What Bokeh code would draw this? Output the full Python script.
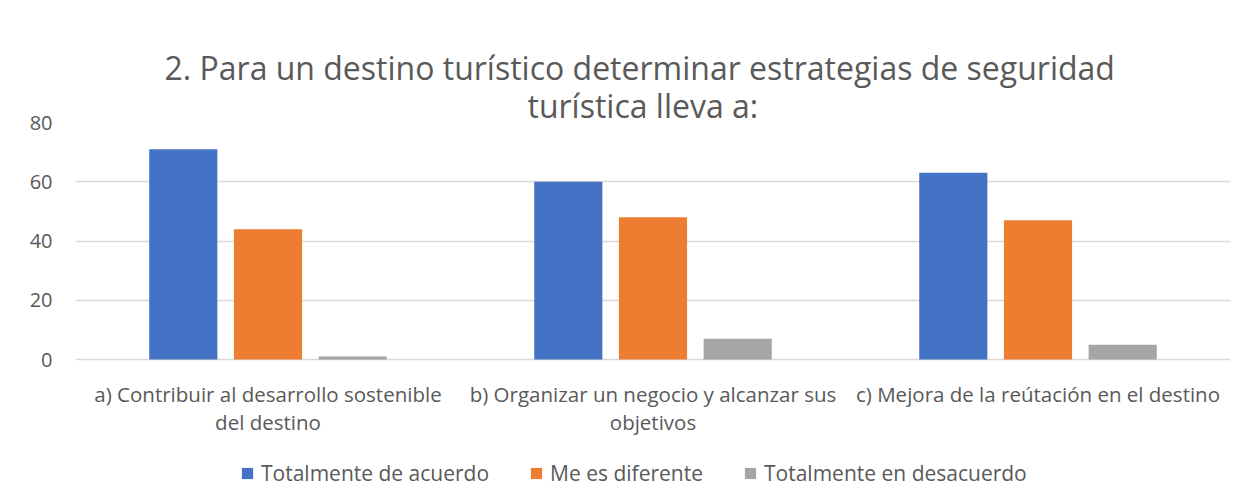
from bokeh.plotting import figure
from bokeh.models import (ColumnDataSource, FactorRange, Legend, LegendItem, Title,
                          FixedTicker, Range1d)
from bokeh.core.properties import value
from bokeh.transform import dodge
from bokeh.embed import file_html
from bokeh.resources import INLINE

categories = [
    "a) Contribuir al desarrollo sostenible del destino",
    "b) Organizar un negocio y alcanzar sus objetivos",
    "c) Mejora de la reútación en el destino",
]
label_line1 = [
    "a) Contribuir al desarrollo sostenible",
    "b) Organizar un negocio y alcanzar sus",
    "c) Mejora de la reútación en el destino",
]
label_line2 = ["del destino", "objetivos", ""]
series_names = ["Totalmente de acuerdo", "Me es diferente", "Totalmente en desacuerdo"]
totalmente_de_acuerdo = [71, 60, 63]
me_es_diferente = [44, 48, 47]
totalmente_en_desacuerdo = [1, 7, 5]
y_ticks = [0, 20, 40, 60, 80]
colors = ["#4472C4", "#ED7D31", "#A5A5A5"]

FONT = "Open Sans"
TXT = "#595959"

# layout (pixels)
FRAME_TOP = 122
PLOT_H = 237            # height of the 0..80 value area
BOTTOM_SPACE = 140      # room below the value area for category labels + legend
Y_MAX = y_ticks[-1]
y_min = -BOTTOM_SPACE * Y_MAX / PLOT_H

source = ColumnDataSource(data=dict(
    cat=categories,
    line1=label_line1,
    line2=label_line2,
    zero=[0] * len(categories),
    s0=totalmente_de_acuerdo,
    s1=me_es_diferente,
    s2=totalmente_en_desacuerdo,
))

p = figure(
    x_range=FactorRange(*categories, range_padding=0),
    y_range=Range1d(y_min, Y_MAX),
    frame_width=1155, frame_height=PLOT_H + BOTTOM_SPACE,
    output_backend="svg", toolbar_location=None,
    min_border_left=75, min_border_right=15, min_border_top=FRAME_TOP, min_border_bottom=0,
    x_axis_location=None,
)
p.outline_line_color = None
p.background_fill_color = "white"
p.border_fill_color = "white"

offsets = [-0.22, 0.0, 0.22]
items = []
for i, (fld, name) in enumerate(zip(["s0", "s1", "s2"], series_names)):
    r = p.vbar(x=dodge("cat", offsets[i], range=p.x_range), top=fld, bottom=0, width=0.177,
               source=source, fill_color=colors[i], line_color=None)
    items.append(LegendItem(label=name, renderers=[r]))

# category labels (two lines) under the zero line
for fld, off in (("line1", 34), ("line2", 62)):
    p.text(x="cat", y="zero", text=fld, source=source, y_offset=off,
           text_align="center", text_baseline="middle",
           text_font=value(FONT), text_font_size="20.5px", text_color=TXT)

# Title (two lines; second added first so it sits closest to the frame)
t2 = Title(text="turística lleva a:", align="left", text_font=FONT, text_font_size="32px",
           text_color=TXT, text_font_style="normal", standoff=-9, offset=452)
t1 = Title(text="2. Para un destino turístico determinar estrategias de seguridad", align="left",
           text_font=FONT, text_font_size="32px", text_color=TXT, text_font_style="normal",
           standoff=-5, offset=89)
p.add_layout(t2, "above")
p.add_layout(t1, "above")

# y axis
p.yaxis.ticker = FixedTicker(ticks=y_ticks)
p.yaxis.axis_line_color = None
p.yaxis.major_tick_line_color = None
p.yaxis.major_tick_out = 0
p.yaxis.major_tick_in = 0
p.yaxis.minor_tick_line_color = None
p.yaxis.major_label_text_font = FONT
p.yaxis.major_label_text_font_size = "20px"
p.yaxis.major_label_text_color = TXT
p.yaxis.major_label_standoff = 23

p.xgrid.grid_line_color = None
p.ygrid.grid_line_color = "#d9d9d9"
p.ygrid.grid_line_width = 1.5

legend = Legend(items=items, orientation="horizontal", location=(165, 12),
                label_text_font=FONT, label_text_font_size="21px", label_text_color=TXT,
                glyph_width=14, glyph_height=14, label_standoff=7, spacing=40,
                border_line_color=None, background_fill_alpha=0, padding=0, margin=0)
p.add_layout(legend)

open("out.html", "w").write(file_html(p, INLINE))
